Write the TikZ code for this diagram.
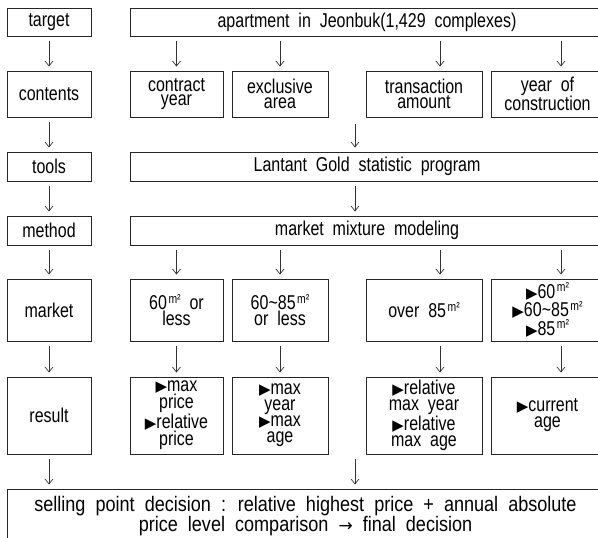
\documentclass[tikz,border=0pt]{standalone}
\usepackage{fontspec}
\setmainfont{Liberation Sans}[FakeStretch=0.8,WordSpace=2]
\newfontfamily\symf{DejaVu Sans}
\newfontfamily\widef{Liberation Sans}[FakeStretch=0.86,WordSpace=2]
\usetikzlibrary{arrows.meta}
\newcommand{\tri}{{\symf\fontsize{15}{12}\selectfont ▶}}
\newcommand{\msq}{\kern1.5pt\raisebox{0.34em}{\fontsize{13}{11}\selectfont m²}}
\begin{document}
\begin{tikzpicture}[x=1pt,y=-1pt,
  box/.style={draw=black!85, line width=0.9pt, inner sep=0pt, align=center,
    font=\fontsize{20}{14.5}\selectfont},
  loose/.style={font=\fontsize{20}{16}\selectfont},
  arr/.style={draw=black!80, line width=0.7pt, -{Straight Barb[length=5pt,width=8pt]},
    shorten <=5pt, shorten >=4pt}]
\useasboundingbox (0,0) rectangle (598,538);
\clip (0,0) rectangle (598,538);
% row 1
\node[box,minimum width=84pt,minimum height=28pt] (target) at (49,22) {target};
\node[box,minimum width=474pt,minimum height=28pt] (apt) at (367,22) {apartment in Jeonbuk(1,429 complexes)};
% row 2
\node[box,minimum width=84pt,minimum height=46pt] (contents) at (49,94) {contents};
\node[box,minimum width=93pt,minimum height=46pt] (cy) at (176.5,94) {contract\\year};
\node[box,minimum width=96pt,minimum height=46pt] (ea) at (280,94) {exclusive\\area};
\node[box,minimum width=116pt,minimum height=46pt] (ta) at (424,94) {transaction\\amount};
\node[box,minimum width=113pt,minimum height=46pt] (yc) at (547.5,94) {year of\\construction};
% row 3
\node[box,minimum width=84pt,minimum height=29pt] (tools) at (49,166.5) {tools};
\node[box,minimum width=474pt,minimum height=29pt] (lgs) at (367,166.5) {Lantant Gold statistic program};
% row 4
\node[box,minimum width=84pt,minimum height=29pt] (method) at (49,230.5) {method};
\node[box,minimum width=474pt,minimum height=29pt] (mmm) at (367,230.5) {market mixture modeling};
% row 5
\node[box,minimum width=84pt,minimum height=62pt] (market) at (49,310) {market};
\node[box,minimum width=93pt,minimum height=62pt] (m1) at (176.5,310) {60\msq{} or\\less};
\node[box,minimum width=96pt,minimum height=62pt] (m2) at (280,310) {60\textasciitilde 85\msq\\or less};
\node[box,minimum width=116pt,minimum height=62pt] (m3) at (424,310) {over 85\msq};
\node[box,loose,minimum width=113pt,minimum height=62pt] (m4) at (547.5,310) {\tri60\msq\\\tri60\textasciitilde 85\msq\\\tri85\msq};
% row 6
\node[box,minimum width=84pt,minimum height=77pt] (result) at (49,415.5) {result};
\node[box,loose,minimum width=93pt,minimum height=77pt] (r1) at (176.5,415.5) {\tri max\\price\\\tri relative\\price};
\node[box,loose,minimum width=96pt,minimum height=77pt] (r2) at (280,415.5) {\tri max\\year\\\tri max\\age};
\node[box,loose,minimum width=116pt,minimum height=77pt] (r3) at (424,415.5) {\tri relative\\max year\\\tri relative\\max age};
\node[box,loose,minimum width=113pt,minimum height=77pt] (r4) at (547.5,415.5) {\tri current\\age};
% row 7
\node[box,minimum width=597pt,minimum height=54pt,font=\widef\fontsize{21}{15}\selectfont] (final) at (305.5,516) {selling point decision : relative highest price + annual absolute\\price level comparison {\symf\fontsize{17}{15}\selectfont →} final decision};
% coordinates
\coordinate (c2) at (355,117);
\coordinate (c3) at (355,454);
% arrows
\draw[arr] (target) -- (contents);
\draw[arr] (apt.south -| cy.north) -- (cy.north);
\draw[arr] (apt.south -| ea.north) -- (ea.north);
\draw[arr] ([xshift=16pt]ta.north |- apt.south) -- ([xshift=16pt]ta.north);
\draw[arr] ([xshift=13.5pt]yc.north |- apt.south) -- ([xshift=13.5pt]yc.north);
\draw[arr] (contents) -- (tools);
\draw[arr, shorten <=7pt] (c2) -- (c2 |- lgs.north);
\draw[arr] (tools) -- (method);
\draw[arr] (lgs.south -| c2) -- (mmm.north -| c2);
\draw[arr] (method) -- (market);
\draw[arr] (mmm.south -| m1.north) -- (m1.north);
\draw[arr] (mmm.south -| m2.north) -- (m2.north);
\draw[arr] ([xshift=16pt]m3.north |- mmm.south) -- ([xshift=16pt]m3.north);
\draw[arr] ([xshift=13.5pt]m4.north |- mmm.south) -- ([xshift=13.5pt]m4.north);
\draw[arr] (market) -- (result);
\draw[arr] (m1) -- (r1);
\draw[arr] (m2) -- (r2);
\draw[arr] ([xshift=16pt]m3.south) -- ([xshift=16pt]r3.north);
\draw[arr] ([xshift=13.5pt]m4.south) -- ([xshift=13.5pt]r4.north);
\draw[arr] (result.south) -- (final.north -| result.south);
\draw[arr] (c3) -- (c3 |- final.north);
\end{tikzpicture}
\end{document}
